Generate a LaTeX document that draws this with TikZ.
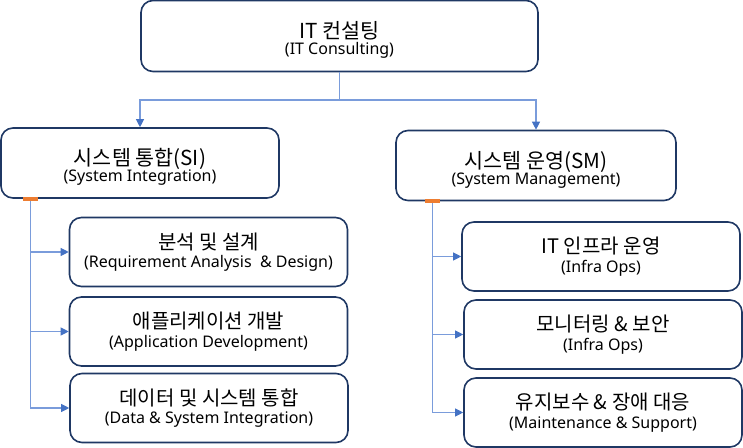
\documentclass[tikz,border=0pt]{standalone}
\usepackage{fontspec}
\setmainfont{Noto Sans}
\newfontfamily\kr{Noto Sans CJK KR}
\usetikzlibrary{arrows.meta}

\definecolor{boxline}{HTML}{1F3864}
\definecolor{linkline}{HTML}{7A9CDB}
\definecolor{linktip}{HTML}{4472C4}
\definecolor{tapcolor}{HTML}{ED7D31}

\newcommand{\headtext}[2]{{\kr\fontsize{15.5}{19}\selectfont\rule{0pt}{19pt}#1}\\[0pt]{\fontsize{12}{14}\selectfont #2}}
\newcommand{\itemtext}[2]{{\kr\fontsize{15}{18}\selectfont #1}\\[2pt]{\fontsize{12}{14}\selectfont #2}}

\begin{document}
\begin{tikzpicture}[x=0.75pt, y=-0.75pt,
    box/.style={draw=boxline, line width=1.2pt, rounded corners=9pt, fill=white, align=center, inner sep=2pt},
    headbox/.style={box, minimum height=52.5pt},
    itembox/.style={box, minimum width=208.5pt, minimum height=51.75pt},
    link/.style={draw=linkline, line width=0.8pt, -{Triangle[length=6pt, width=6pt, color=linktip]}},
    tapmark/.style={fill=tapcolor, inner sep=0pt, minimum width=11.25pt, minimum height=3pt}]
    \useasboundingbox (0, 0) rectangle (743, 448);
    % Top level
    \node[box, minimum width=297.75pt, minimum height=53.25pt] (root) at (339.5, 36) {\headtext{IT 컨설팅}{(IT Consulting)}};
    \node[headbox, minimum width=208.5pt] (si) at (140, 163) {\headtext{시스템 통합(SI)}{(System Integration)}};
    \node[headbox, minimum width=210pt] (sm) at (536, 165.5) {\headtext{시스템 운영(SM)}{(System Management)}};

    % SI items
    \node[itembox] (si-req) at (208.5, 252) {\itemtext{분석 및 설계}{(Requirement Analysis~ \& Design)}};
    \node[itembox] (si-app) at (208.5, 331.5) {\itemtext{애플리케이션 개발}{(Application Development)}};
    \node[itembox] (si-data) at (209, 408) {\itemtext{데이터 및 시스템 통합}{(Data \& System Integration)}};

    % SM items
    \node[itembox] (sm-infra) at (601, 256.5) {\itemtext{IT 인프라 운영}{(Infra Ops)}};
    \node[itembox] (sm-mon) at (603, 334.5) {\itemtext{모니터링 \& 보안}{(Infra Ops)}};
    \node[itembox] (sm-maint) at (603, 412.5) {\itemtext{유지보수 \& 장애 대응}{(Maintenance \& Support)}};

    \coordinate (hub) at (root.south |- 0,100);
    \draw[link] (root.south) -- (hub) -| (si.north);
    \draw[link] (hub) -| (sm.north);

    \coordinate (si-tap) at ([xshift=22.5pt]si.south west);
    \coordinate (sm-tap) at ([xshift=27.75pt]sm.south west);
    \draw[link] (si-tap) |- (si-req.west);
    \draw[link] (si-tap) |- (si-app.west);
    \draw[link] (si-tap) |- (si-data.west);
    \draw[link] (sm-tap) |- (sm-infra.west);
    \draw[link] (sm-tap) |- (sm-mon.west);
    \draw[link] (sm-tap) |- (sm-maint.west);
    \node[tapmark] (si-mark) at (si-tap) {};
    \node[tapmark] (sm-mark) at (sm-tap) {};
\end{tikzpicture}
\end{document}
